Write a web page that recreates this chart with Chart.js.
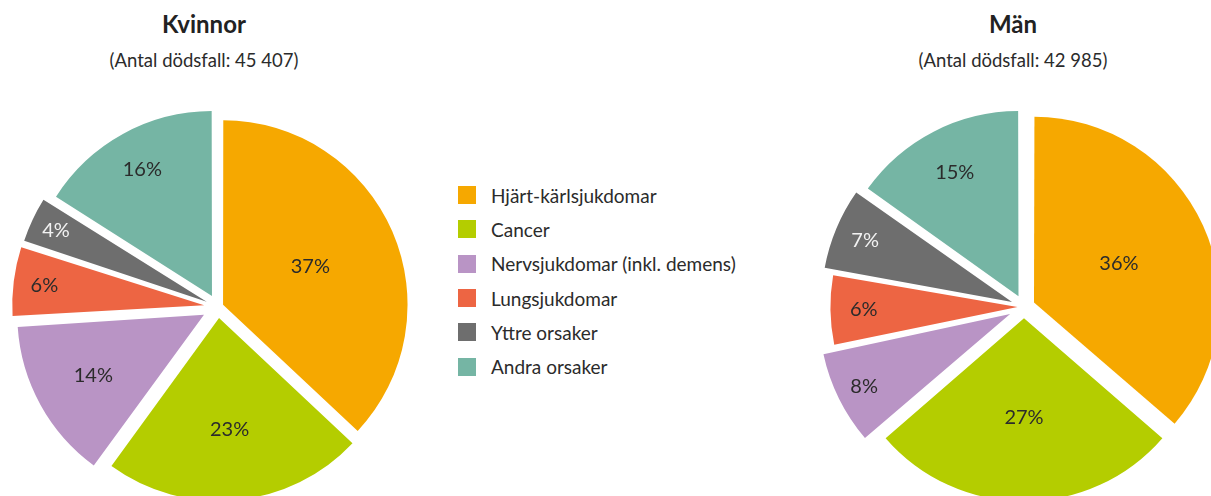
<!DOCTYPE html>
<html lang="sv">
<head>
<meta charset="utf-8">
<title>Dödsorsaker 2019</title>
<script src="https://cdn.jsdelivr.net/npm/chart.js@4"></script>
<style>
    html, body {
        margin: 0;
        padding: 0;
        width: 1211px;
        height: 496px;
        overflow: hidden;
        background: #fff;
        font-family: Lato, "Open Sans", sans-serif;
        color: #2b2b2b;
    }
    .pie {
        position: absolute;
        top: 87px;
    }
    .heading {
        position: absolute;
        width: 300px;
        text-align: center;
        z-index: 2;
    }
    .heading h2 {
        margin: 0;
        font-size: 24px;
        font-weight: 700;
        line-height: 28px;
        color: #222;
    }
    .heading p {
        margin: 10px 0 0;
        font-size: 18.5px;
        line-height: 24px;
    }
    #legend {
        position: absolute;
        left: 458px;
        top: 178px;
        margin: 0;
        padding: 0;
        list-style: none;
        font-size: 19px;
    }
    #legend li {
        height: 34.3px;
        display: flex;
        align-items: center;
    }
    #legend span {
        width: 18px;
        height: 18px;
        margin-right: 15px;
        flex: none;
    }
</style>
</head>
<body>

<div class="heading" style="left:54px; top:10px;">
    <h2>Kvinnor</h2>
    <p>(Antal dödsfall: 45 407)</p>
</div>
<div class="heading" style="left:863px; top:10px;">
    <h2>Män</h2>
    <p>(Antal dödsfall: 42 985)</p>
</div>

<canvas id="womenChart" class="pie" width="440" height="440" style="left:-2px;"></canvas>
<ul id="legend"></ul>
<canvas id="menChart" class="pie" width="440" height="440" style="left:804px;"></canvas>

<script>
// Data (share of deaths, %)
const causes = ['Hjärt-kärlsjukdomar', 'Cancer', 'Nervsjukdomar (inkl. demens)', 'Lungsjukdomar', 'Yttre orsaker', 'Andra orsaker'];
const womenShare = [37, 23, 14, 6, 4, 16];
const menShare = [36, 27, 8, 6, 7, 15];

const colors = ['#f6a800', '#b4cd00', '#b994c5', '#ed6543', '#6e6e6e', '#75b5a4'];
const labelColors = ['#2b2b2b', '#2b2b2b', '#2b2b2b', '#2b2b2b', '#f2f2f2', '#2b2b2b'];

document.addEventListener('DOMContentLoaded', function() {
    buildLegend();
    drawPie('womenChart', womenShare, [22, 44, 64, 56, 50, 50], [0.52, 0.61, 0.69, 0.88, 0.91, 0.79]);
    drawPie('menChart', menShare, [44, 45, 62, 26, 52, 48], [0.51, 0.54, 0.89, 0.84, 0.87, 0.76]);
});

function buildLegend() {
    const ul = document.getElementById('legend');
    ul.innerHTML = causes.map((cause, i) => `
        <li><span style="background:${colors[i]}"></span>${cause}</li>
    `).join('');
}

// draws the percentage inside each slice
const sliceLabels = {
    id: 'sliceLabels',
    afterDatasetsDraw(chart) {
        const ctx = chart.ctx;
        const ds = chart.data.datasets[0];
        const arcs = chart.getDatasetMeta(0).data;
        ctx.save();
        ctx.font = '20px Lato, "Open Sans", sans-serif';
        ctx.textAlign = 'center';
        ctx.textBaseline = 'middle';
        arcs.forEach((arc, i) => {
            const mid = (arc.startAngle + arc.endAngle) / 2;
            const dist = ds.offset[i] / 4 + arc.outerRadius * ds.labelPos[i];
            ctx.fillStyle = labelColors[i];
            ctx.fillText(ds.data[i] + '%', arc.x + Math.cos(mid) * dist, arc.y + Math.sin(mid) * dist);
        });
        ctx.restore();
    }
};

function drawPie(id, values, offsets, labelPos) {
    const ctx = document.getElementById(id).getContext('2d');
    new Chart(ctx, {
        type: 'pie',
        data: {
            labels: causes,
            datasets: [{
                data: values,
                backgroundColor: colors,
                borderWidth: 0,
                offset: offsets,
                labelPos: labelPos
            }]
        },
        options: {
            responsive: false,
            animation: false,
            radius: 183,
            layout: { padding: 0 },
            events: [],
            plugins: {
                legend: { display: false },
                tooltip: { enabled: false }
            }
        },
        plugins: [sliceLabels]
    });
}
</script>
</body>
</html>
